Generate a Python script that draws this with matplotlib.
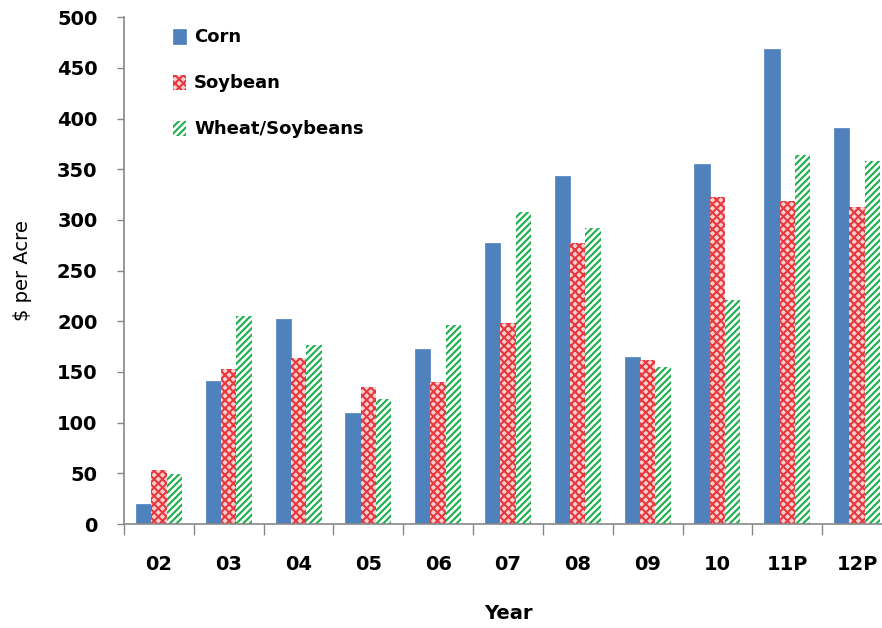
import matplotlib
matplotlib.use('Agg')
import matplotlib.pyplot as plt
import numpy as np

years = ['02', '03', '04', '05', '06', '07', '08', '09', '10', '11P', '12P']
corn = [20, 141, 202, 110, 173, 277, 343, 165, 355, 469, 391]
soybean = [53, 153, 164, 135, 140, 198, 277, 162, 323, 319, 313]
wheat_soy = [49, 205, 177, 123, 196, 308, 292, 155, 221, 364, 358]

plt.rcParams['font.family'] = ['DejaVu Sans']
plt.rcParams['hatch.linewidth'] = 1.5

fig = plt.figure(figsize=(8.82, 6.28), dpi=100)
ax = fig.add_axes([0.1406, 0.1656, 0.8707, 0.807])

x = np.arange(len(years))
w = 0.22

ax.bar(x - w, corn, w, color='#4f81bd', edgecolor='#4f81bd', linewidth=0.5, label='Corn')
ax.bar(x, soybean, w, color='#f8d0d0', edgecolor='#e8383d', hatch='xxxx',
       linewidth=0, label='Soybean')
ax.bar(x + w, wheat_soy, w, color='white', edgecolor='#19b04b', hatch='/////',
       linewidth=0, label='Wheat/Soybeans')

ax.set_xlim(-0.5, len(years) - 0.5)
ax.set_ylim(0, 500)
ax.set_yticks(np.arange(0, 501, 50))

ax.set_xticks(x)
ax.set_xticklabels(years)
ax.set_xticks(np.arange(-0.5, len(years), 1), minor=True)
ax.tick_params(axis='x', which='major', length=0, pad=22, labelsize=14)
ax.tick_params(axis='x', which='minor', length=8, color='#888888', width=1)
ax.tick_params(axis='y', length=5, color='#888888', width=1, pad=14, labelsize=14)
for lbl in ax.get_xticklabels() + ax.get_yticklabels():
    lbl.set_fontweight('bold')

for s in ['top', 'right']:
    ax.spines[s].set_visible(False)
for s in ['left', 'bottom']:
    ax.spines[s].set_color('#888888')
    ax.spines[s].set_linewidth(1.2)

ax.set_ylabel('$ per Acre', fontsize=14)
ax.yaxis.set_label_coords(-0.12, 0.5)
ax.set_xlabel('Year', fontsize=14, fontweight='bold')
ax.xaxis.set_label_coords(0.5, -0.157)

leg = ax.legend(loc='upper left', bbox_to_anchor=(0.042, 1.01), frameon=False,
                handlelength=0.75, handleheight=0.9, handletextpad=0.45,
                labelspacing=1.55, prop={'weight': 'bold', 'size': 13})

plt.savefig('out.png', dpi=100)
